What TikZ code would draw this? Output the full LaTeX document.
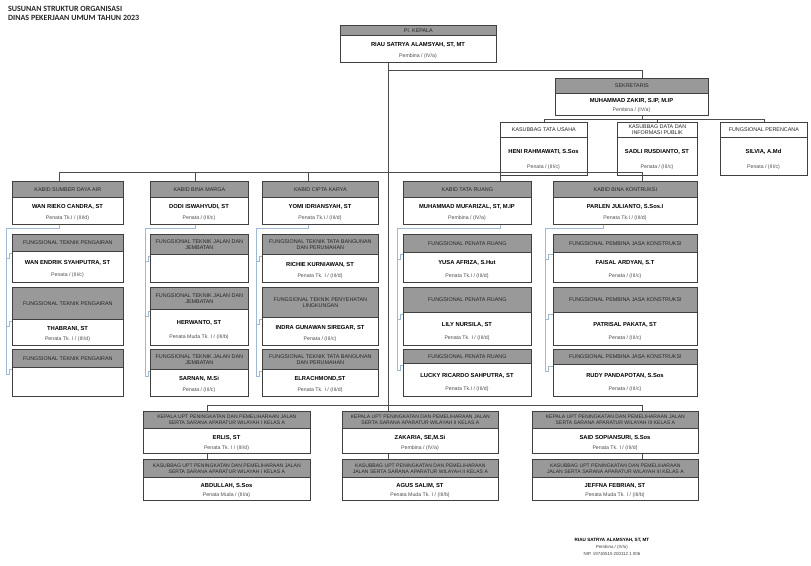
\documentclass[tikz,border=0pt]{standalone}
\usepackage{fontspec}
\setmainfont{Liberation Sans}
\newfontfamily\titlefont{Carlito}
\definecolor{conblue}{RGB}{160,185,210}
\def\hdrfill{black!40}
\def\hdrfont{\fontsize{5.4}{5.8}\selectfont}
\tikzset{
  hdr/.style={draw=black!75, fill=\hdrfill, line width=0.7pt, inner sep=0pt, align=center, font=\hdrfont, text=black!85, anchor=north west},
  bdy/.style={draw=black!75, fill=white, line width=0.7pt, inner sep=0pt, anchor=north west},
  nm/.style={inner sep=0pt, font=\fontsize{5.8}{6}\selectfont\bfseries},
  rk/.style={inner sep=0pt, font=\fontsize{5.2}{6}\selectfont, text=black!70},
  ln/.style={draw=black!70, line width=0.7pt},
  bl/.style={draw=conblue, line width=0.8pt},
  ttl/.style={anchor=west, inner sep=0pt, font=\titlefont\fontsize{8}{9}\selectfont\bfseries, text=black!85},
  sig/.style={inner sep=0pt, font=\fontsize{4.4}{5}\selectfont, text=black!75}
}
% name, x, y, width, header height, body height, header, name, rank
\newcommand{\obox}[9]{%
  \node[hdr, minimum width=#4pt, minimum height=#5pt] (#1h) at (#2,#3) {#7};
  \node[bdy, minimum width=#4pt, minimum height=#6pt] (#1) at (#2,{#3+#5}) {};
  \node[nm] (#1n) at ({#2+#4/2},{#3+#5+0.38*#6}) {#8};
  \node[rk] (#1r) at ({#2+#4/2},{#3+#5+0.79*#6}) {#9};
}
\newcommand{\oboxe}[7]{%
  \node[hdr, minimum width=#4pt, minimum height=#5pt] (#1h) at (#2,#3) {#7};
  \node[bdy, minimum width=#4pt, minimum height=#6pt] (#1) at (#2,{#3+#5}) {};
}
% elbow from spine #1 to box body #2
\newcommand{\elb}[2]{%
  \path (#1 |- #2.north west) ++(0,7) coordinate (#2e);
  \draw[bl] (#2e) -- ++(3,0) |- ([yshift=-2pt]#2.north west);
}
\begin{document}
\begin{tikzpicture}[x=1pt,y=-1pt]
\useasboundingbox (0,0) rectangle (811,565);
\fill[white] (0,0) rectangle (811,565);

\node[ttl] (t1) at (8,9) {SUSUNAN STRUKTUR ORGANISASI};
\node[ttl] (t2) at (8,18) {DINAS PEKERJAAN UMUM TAHUN 2023};

% top
\obox{kep}{340}{25}{156}{10}{27}{Pl. KEPALA}{RIAU SATRYA ALAMSYAH, ST, MT}{Pembina / (IV/a)}
\obox{sek}{555}{78}{153}{15}{22}{SEKRETARIS}{MUHAMMAD ZAKIR, S.IP, M.IP}{Pembina / (IV/a)}
\def\hdrfill{white}
\obox{kstu}{500}{122}{87}{15}{38}{KASUBBAG TATA USAHA}{HENI RAHMAWATI, S.Sos}{Penata / (III/c)}
\obox{kdat}{617}{122}{80}{15}{38}{KASUBBAG DATA DAN\\INFORMASI PUBLIK}{SADLI RUSDIANTO, ST}{Penata / (III/c)}
\obox{fper}{720}{122}{87}{15}{38}{FUNGSIONAL PERENCANA}{SILVIA, A.Md}{Penata / (III/c)}
\def\hdrfill{black!40}

% kabid row
\obox{ka}{12}{181}{111}{16}{27}{KABID SUMBER DAYA AIR}{WAN RIEKO CANDRA, ST}{Penata Tk.I / (III/d)}
\obox{kb}{150}{181}{98}{16}{27}{KABID BINA MARGA}{DODI ISWAHYUDI, ST}{Penata / (III/c)}
\obox{kc}{262}{181}{116}{16}{27}{KABID CIPTA KARYA}{YOMI IDRIANSYAH, ST}{Penata Tk.I / (III/d)}
\obox{kd}{403}{181}{128}{16}{27}{KABID TATA RUANG}{MUHAMMAD MUFARIZAL, ST, M.IP}{Pembina / (IV/a)}
\obox{ke}{553}{181}{144}{16}{27}{KABID BINA KONTRUKSI}{PARLEN JULIANTO, S.Sos.I}{Penata Tk.I / (III/d)}

% column 1
\obox{a1}{12}{234}{111}{17}{31}{FUNGSIONAL TEKNIK PENGAIRAN}{WAN ENDRIK SYAHPUTRA, ST}{Penata / (III/c)}
\obox{a2}{12}{287}{111}{32}{26}{FUNGSIONAL TEKNIK PENGAIRAN}{THABRANI, ST}{Penata Tk. I / (III/d)}
\oboxe{a3}{12}{349}{111}{18}{29}{FUNGSIONAL TEKNIK PENGAIRAN}
% column 2
\oboxe{b1}{150}{234}{98}{20}{28}{FUNGSIONAL TEKNIK JALAN DAN\\JEMBATAN}
\obox{b2}{150}{287}{98}{22}{36}{FUNGSIONAL TEKNIK JALAN DAN\\JEMBATAN}{HERWANTO, ST}{Penata Muda Tk. I / (III/b)}
\obox{b3}{150}{349}{98}{20}{27}{FUNGSIONAL TEKNIK JALAN DAN\\JEMBATAN}{SARNAN, M.Si}{Penata / (III/c)}
% column 3
\obox{c1}{262}{234}{116}{20}{28}{FUNGSIONAL TEKNIK TATA BANGUNAN\\DAN PERUMAHAN}{RICHIE KURNIAWAN, ST}{Penata Tk. I / (III/d)}
\obox{c2}{262}{287}{116}{30}{28}{FUNGSIONAL TEKNIK PENYEHATAN\\LINGKUNGAN}{INDRA GUNAWAN SIREGAR, ST}{Penata / (III/c)}
\obox{c3}{262}{349}{116}{20}{27}{FUNGSIONAL TEKNIK TATA BANGUNAN\\DAN PERUMAHAN}{ELRACHMOND,ST}{Penata Tk. I / (III/d)}
% column 4
\obox{d1}{403}{234}{128}{18}{30}{FUNGSIONAL PENATA RUANG}{YUSA AFRIZA, S.Hut}{Penata Tk.I / (III/d)}
\obox{d2}{403}{287}{128}{25}{33}{FUNGSIONAL PENATA RUANG}{LILY NURSILA, ST}{Penata Tk. I / (III/d)}
\obox{d3}{403}{349}{128}{14}{33}{FUNGSIONAL PENATA RUANG}{LUCKY RICARDO SAHPUTRA, ST}{Penata Tk.I / (III/d)}
% column 5
\obox{e1}{553}{234}{144}{18}{30}{FUNGSIONAL PEMBINA JASA KONSTRUKSI}{FAISAL ARDYAN, S.T}{Penata / (III/c)}
\obox{e2}{553}{287}{144}{25}{33}{FUNGSIONAL PEMBINA JASA KONSTRUKSI}{PATRISAL PAKATA, ST}{Penata / (III/c)}
\obox{e3}{553}{349}{144}{15}{32}{FUNGSIONAL PEMBINA JASA KONSTRUKSI}{RUDY PANDAPOTAN, S.Sos}{Penata / (III/c)}

% UPT row
\def\hdrfont{\fontsize{5.1}{6.2}\selectfont}
\obox{u1}{143}{411}{167}{17}{25}{KEPALA UPT PENINGKATAN DAN PEMELIHARAAN JALAN\\SERTA SARANA APARATUR WILAYAH I KELAS A}{ERLIS, ST}{Penata Tk. I / (III/d)}
\obox{v1}{143}{459}{167}{18}{23}{KASUBBAG UPT PENINGKATAN DAN PEMELIHARAAN JALAN\\SERTA SARANA APARATUR WILAYAH I KELAS A}{ABDULLAH, S.Sos}{Penata Muda / (III/a)}
\obox{u2}{342}{411}{156}{17}{25}{KEPALA UPT PENINGKATAN DAN PEMELIHARAAN JALAN\\SERTA SARANA APARATUR WILAYAH II KELAS A}{ZAKARIA, SE,M.Si}{Pembina / (IV/a)}
\obox{v2}{342}{459}{156}{18}{23}{KASUBBAG UPT PENINGKATAN DAN PEMELIHARAAN\\JALAN SERTA SARANA APARATUR WILAYAH II KELAS A}{AGUS SALIM, ST}{Penata Muda Tk. I / (III/b)}
\obox{u3}{532}{411}{166}{17}{25}{KEPALA UPT PENINGKATAN DAN PEMELIHARAAN JALAN\\SERTA SARANA APARATUR WILAYAH III KELAS A}{SAID SOPIANSURI, S.Sos}{Penata Tk. I / (III/d)}
\obox{v3}{532}{459}{166}{18}{23}{KASUBBAG UPT PENINGKATAN DAN PEMELIHARAAN\\JALAN SERTA SARANA APARATUR WILAYAH III KELAS A}{JEFFNA FEBRIAN, ST}{Penata Muda Tk. I / (III/b)}

% signature
\node[sig, font=\fontsize{4.6}{5}\selectfont\bfseries, text=black] (sg1) at (612,540) {RIAU SATRYA ALAMSYAH, ST, MT};
\node[sig] (sg2) at (612,547) {Pembina / (IV/a)};
\node[sig] (sg3) at (612,554) {NIP. 19740515 200112 1 006};

% reference coordinates
\coordinate (xT) at (388,0);
\coordinate (xS) at (642,0);
\coordinate (x1) at (59,0);
\coordinate (x2) at (195,0);
\coordinate (x3) at (308,0);
\coordinate (x4) at (500,0);
\coordinate (x5b) at (603,0);
\coordinate (xu1) at (207,0);
\coordinate (yA) at (0,70);
\coordinate (yB) at (0,119);
\coordinate (yK) at (0,172);
\coordinate (yJ) at (0,228);
\coordinate (yU) at (0,405);
\coordinate (s1) at (6,0);
\coordinate (s2) at (145,0);
\coordinate (s3) at (256,0);
\coordinate (s4) at (397,0);
\coordinate (s5) at (545,0);

% main connectors
\draw[ln] (kep.south -| xT) -- (xT |- yU);
\draw[ln] (xT |- yA) -| (sekh.north -| xS);
\draw[ln] (sek.south -| xS) -- (xS |- yB);
\draw[ln] (kstuh.north |- yB) -- (fperh.north |- yB);
\draw[ln] (kstuh.north |- yB) -- (kstuh.north);
\draw[ln] (kdath.north |- yB) -- (kdath.north);
\draw[ln] (fperh.north |- yB) -- (fperh.north);
\draw[ln] (x1 |- yK) -- (xS |- yK);
\draw[ln] (x1 |- yK) -- (kah.north -| x1);
\draw[ln] (x2 |- yK) -- (kbh.north -| x2);
\draw[ln] (x3 |- yK) -- (kch.north -| x3);
\draw[ln] (x4 |- yK) -- (kdh.north -| x4);
\draw[ln] (xS |- yK) -- (keh.north -| xS);
\draw[ln] (xu1 |- yU) -- (xS |- yU);
\draw[ln] (xu1 |- yU) -- (u1h.north -| xu1);
\draw[ln] (xT |- yU) -- (u2h.north -| xT);
\draw[ln] (xS |- yU) -- (u3h.north -| xS);
\draw[ln] (u1.south -| xu1) -- (v1h.north -| xu1);
\draw[ln] (u2.south -| xT) -- (v2h.north -| xT);
\draw[ln] (u3.south -| xS) -- (v3h.north -| xS);

% functional connectors
\elb{s1}{a1} \elb{s1}{a2} \elb{s1}{a3}
\elb{s2}{b1} \elb{s2}{b2} \elb{s2}{b3}
\elb{s3}{c1} \elb{s3}{c2} \elb{s3}{c3}
\elb{s4}{d1} \elb{s4}{d2} \elb{s4}{d3}
\elb{s5}{e1} \elb{s5}{e2} \elb{s5}{e3}
\draw[bl] (ka.south -| x1) |- (s1 |- yJ) -- (a3e);
\draw[bl] (kb.south -| x2) |- (s2 |- yJ) -- (b3e);
\draw[bl] (kc.south -| x3) |- (s3 |- yJ) -- (c3e);
\draw[bl] (kd.south -| x4) |- (s4 |- yJ) -- (d3e);
\draw[bl] (ke.south -| x5b) |- (s5 |- yJ) -- (e3e);
\end{tikzpicture}
\end{document}
